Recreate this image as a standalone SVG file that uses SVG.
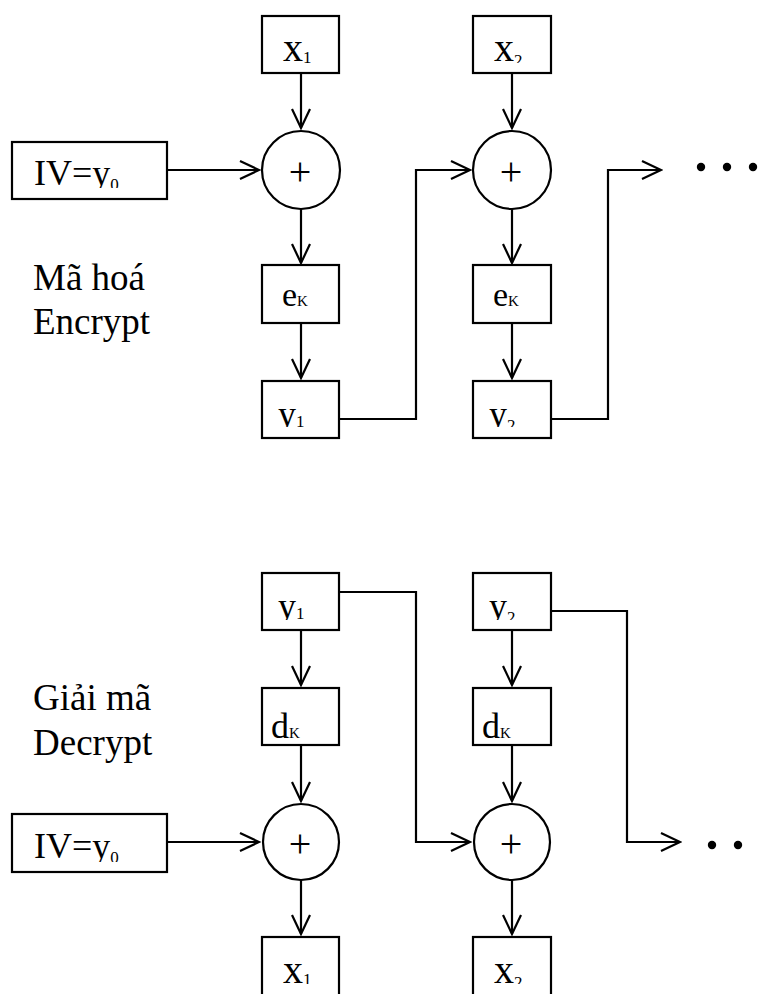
<svg xmlns="http://www.w3.org/2000/svg" width="759" height="994" viewBox="0 0 759 994">
  <style>
    .box { fill: #fff; stroke: #000; stroke-width: 2.2; }
    .xor { fill: #fff; stroke: #000; stroke-width: 2.2; }
    .wire { fill: none; stroke: #000; stroke-width: 2.2; marker-end: url(#arrow); }
    .t { font-family: "Liberation Serif", "Times New Roman", serif; fill: #000; }
    .lbl { font-family: "Liberation Serif", "Times New Roman", serif; font-size: 37px; fill: #000; }
    .plus { font-family: "Liberation Serif", "Times New Roman", serif; font-size: 40px; text-anchor: middle; fill: #000; }
    .dot { fill: #000; }
  </style>
  <defs>
    <marker id="arrow" markerUnits="userSpaceOnUse" markerWidth="24" markerHeight="24" viewBox="-22 -12 24 24" refX="0" refY="0" orient="auto">
      <path d="M-19,-9 L0,0 L-19,9" fill="none" stroke="#000" stroke-width="2.2"/>
    </marker>
    <!-- text areas clipped a little above the box bottom -->
    <clipPath id="cX"><rect x="0" y="0" width="759" height="63"/></clipPath>
    <clipPath id="cIV1"><rect x="0" y="100" width="759" height="88"/></clipPath>
    <clipPath id="cY1"><rect x="0" y="380" width="759" height="47"/></clipPath>
    <clipPath id="cY2"><rect x="0" y="572" width="759" height="48"/></clipPath>
    <clipPath id="cIV2"><rect x="0" y="800" width="759" height="62"/></clipPath>
    <clipPath id="cX2"><rect x="0" y="936" width="759" height="48"/></clipPath>
  </defs>

  <!-- side labels -->
  <g id="label-encrypt">
    <text class="lbl" x="33" y="290">Mã hoá</text>
    <text class="lbl" x="33" y="334">Encrypt</text>
  </g>
  <g id="label-decrypt">
    <text class="lbl" x="33" y="710">Giải mã</text>
    <text class="lbl" x="33" y="755">Decrypt</text>
  </g>

  <!-- connectors -->
  <g id="connectors">
    <!-- encryption chain -->
    <path class="wire" d="M301,73 V128"/>
    <path class="wire" d="M167,170 H259"/>
    <path class="wire" d="M301,209 V263"/>
    <path class="wire" d="M301,323 V378"/>
    <path class="wire" d="M339,419 H416 V170 H470"/>
    <path class="wire" d="M512,73 V128"/>
    <path class="wire" d="M512,209 V263"/>
    <path class="wire" d="M512,323 V378"/>
    <path class="wire" d="M551,419 H608 V170 H661"/>
    <!-- decryption chain -->
    <path class="wire" d="M301,630 V685"/>
    <path class="wire" d="M301,745 V801"/>
    <path class="wire" d="M167,842 H259"/>
    <path class="wire" d="M301,880 V934"/>
    <path class="wire" d="M339,592 H416 V842 H470"/>
    <path class="wire" d="M512,630 V685"/>
    <path class="wire" d="M512,745 V801"/>
    <path class="wire" d="M512,880 V934"/>
    <path class="wire" d="M551,611 H627 V842 H680"/>
  </g>

  <!-- encryption nodes -->
  <g id="enc-x1">
    <rect class="box" x="262" y="16" width="77" height="57"/>
    <text class="t" clip-path="url(#cX)" x="283" y="61" font-size="40">x<tspan font-size="17" dy="2">1</tspan></text>
  </g>
  <g id="enc-x2">
    <rect class="box" x="473" y="16" width="78" height="57"/>
    <text class="t" clip-path="url(#cX)" x="494" y="61" font-size="40">x<tspan font-size="17" dy="5">2</tspan></text>
  </g>
  <g id="enc-iv">
    <rect class="box" x="12" y="142" width="155" height="57"/>
    <text class="t" clip-path="url(#cIV1)" x="34" y="185" font-size="36">IV=y<tspan font-size="17" dy="5">0</tspan></text>
  </g>
  <g id="enc-xor1">
    <circle class="xor" cx="301" cy="170" r="39"/>
    <text class="plus" x="300" y="185">+</text>
  </g>
  <g id="enc-xor2">
    <circle class="xor" cx="512" cy="170" r="39"/>
    <text class="plus" x="511" y="185">+</text>
  </g>
  <g id="enc-ek1">
    <rect class="box" x="262" y="265" width="77" height="58"/>
    <text class="t" x="282" y="306" font-size="34">e<tspan font-size="15">K</tspan></text>
  </g>
  <g id="enc-ek2">
    <rect class="box" x="473" y="265" width="78" height="58"/>
    <text class="t" x="493" y="306" font-size="34">e<tspan font-size="15">K</tspan></text>
  </g>
  <g id="enc-y1">
    <rect class="box" x="262" y="381" width="77" height="57"/>
    <text class="t" clip-path="url(#cY1)" x="278" y="426" font-size="36">y<tspan font-size="17" dy="1">1</tspan></text>
  </g>
  <g id="enc-y2">
    <rect class="box" x="473" y="381" width="78" height="57"/>
    <text class="t" clip-path="url(#cY1)" x="489" y="426" font-size="36">y<tspan font-size="17" dy="5">2</tspan></text>
  </g>
  <g id="enc-more">
    <circle class="dot" cx="701" cy="167" r="4.2"/>
    <circle class="dot" cx="727" cy="167" r="4.2"/>
    <circle class="dot" cx="753" cy="167" r="4.2"/>
  </g>

  <!-- decryption nodes -->
  <g id="dec-y1">
    <rect class="box" x="262" y="573" width="77" height="57"/>
    <text class="t" clip-path="url(#cY2)" x="278" y="618" font-size="36">y<tspan font-size="17" dy="1">1</tspan></text>
  </g>
  <g id="dec-y2">
    <rect class="box" x="473" y="573" width="78" height="57"/>
    <text class="t" clip-path="url(#cY2)" x="489" y="618" font-size="36">y<tspan font-size="17" dy="5">2</tspan></text>
  </g>
  <g id="dec-dk1">
    <rect class="box" x="262" y="688" width="77" height="57"/>
    <text class="t" x="271" y="738" font-size="36">d<tspan font-size="15">K</tspan></text>
  </g>
  <g id="dec-dk2">
    <rect class="box" x="473" y="688" width="78" height="57"/>
    <text class="t" x="482" y="738" font-size="36">d<tspan font-size="15">K</tspan></text>
  </g>
  <g id="dec-iv">
    <rect class="box" x="12" y="814" width="155" height="58"/>
    <text class="t" clip-path="url(#cIV2)" x="34" y="858" font-size="36">IV=y<tspan font-size="17" dy="5">0</tspan></text>
  </g>
  <g id="dec-xor1">
    <circle class="xor" cx="301" cy="842" r="38"/>
    <text class="plus" x="300" y="857">+</text>
  </g>
  <g id="dec-xor2">
    <circle class="xor" cx="512" cy="842" r="38"/>
    <text class="plus" x="511" y="857">+</text>
  </g>
  <g id="dec-x1">
    <rect class="box" x="262" y="937" width="77" height="60"/>
    <text class="t" clip-path="url(#cX2)" x="283" y="983" font-size="40">x<tspan font-size="17" dy="2">1</tspan></text>
  </g>
  <g id="dec-x2">
    <rect class="box" x="473" y="937" width="78" height="60"/>
    <text class="t" clip-path="url(#cX2)" x="494" y="983" font-size="40">x<tspan font-size="17" dy="5">2</tspan></text>
  </g>
  <g id="dec-more">
    <circle class="dot" cx="712" cy="845" r="4.2"/>
    <circle class="dot" cx="738" cy="845" r="4.2"/>
  </g>
</svg>
